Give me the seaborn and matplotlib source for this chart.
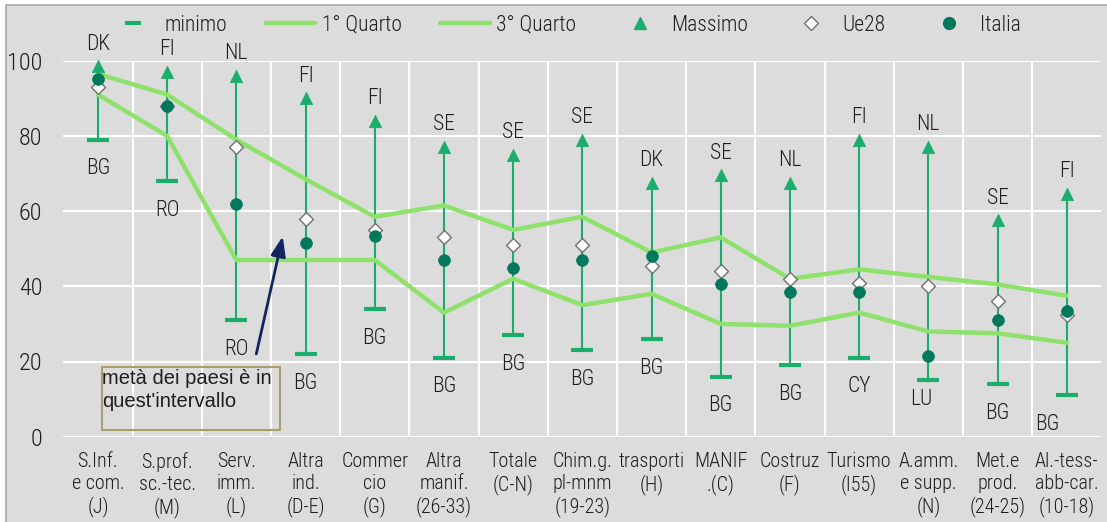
import matplotlib
matplotlib.use("Agg")
import numpy as np
import pandas as pd
import matplotlib.pyplot as plt
import seaborn as sns
from matplotlib.lines import Line2D
from matplotlib.patches import Rectangle
from matplotlib import font_manager

settori = ["S.Inf.\ne com.\n(J)", "S.prof.\nsc.-tec.\n(M)", "Serv.\nimm.\n(L)",
           "Altra\nind.\n(D-E)", "Commer\ncio\n(G)", "Altra\nmanif.\n(26-33)",
           "Totale\n(C-N)", "Chim.g.\npl-mnm\n(19-23)", "trasporti\n(H)",
           "MANIF\n.(C)", "Costruz\n(F)", "Turismo\n(I55)", "A.amm.\ne supp.\n(N)",
           "Met.e\nprod.\n(24-25)", "Al.-tess-\nabb-car.\n(10-18)"]
minimo = [79, 68, 31, 22, 34, 21, 27, 23, 26, 16, 19, 21, 15, 14, 11]
massimo = [98.5, 97, 96, 90, 84, 77, 75, 79, 67.5, 69.5, 67.5, 79, 77, 57.5, 64.5]
quarto1 = [91, 80, 47, 47, 47, 33, 42, 35, 38, 30, 29.5, 33, 28, 27.5, 25]
quarto3 = [96.5, 91, 79, 68.5, 58.5, 61.5, 55, 58.5, 49, 53, 42, 44.5, 42.5, 40.5, 37.5]
ue28 = [93, 88, 77, 58, 55, 53, 51, 51, 45.5, 44, 42, 41, 40, 36, 32.5]
italia = [95, 88, 62, 51.5, 53.5, 47, 45, 47, 48, 40.5, 38.5, 38.5, 21.5, 31, 33.5]
paese_max = ["DK", "FI", "NL", "FI", "FI", "SE", "SE", "SE", "DK", "SE", "NL", "FI", "NL", "SE", "FI"]
paese_min = ["BG", "RO", "RO", "BG", "BG", "BG", "BG", "BG", "BG", "BG", "BG", "CY", "LU", "BG", "BG"]

df = pd.DataFrame({"settore": settori, "minimo": minimo, "massimo": massimo,
                   "q1": quarto1, "q3": quarto3, "ue28": ue28, "italia": italia})

sns.set_theme(style="darkgrid")
disponibili = {f.name for f in font_manager.fontManager.ttflist}
stretto = [f for f in ["Liberation Sans Narrow", "Roboto Condensed", "DejaVu Sans Condensed"] if f in disponibili]
plt.rcParams["font.family"] = stretto + ["Liberation Sans", "DejaVu Sans"]
plt.rcParams["font.weight"] = "light"
plt.rcParams["font.size"] = 15

GRIGIO = "#dcdcdc"
VERDE = "#1aad6c"
VERDE_CH = "#8ee26c"
SCURO = "#00785c"
TESTO = "#1e1e1e"

fig = plt.figure(figsize=(11.07, 5.22), dpi=100, facecolor="white")
fig.patches.append(Rectangle((6 / 1107, -0.01), 1.0, 1 - 5 / 522 + 0.01, transform=fig.transFigure,
                             fc=GRIGIO, ec="#a8a8a8", lw=1.2, zorder=-5))
ax = fig.add_axes([63.3 / 1107, 1 - 436.7 / 522, (15 * 69.2) / 1107, (436.7 - 60.7) / 522])
ax.set_facecolor(GRIGIO)

pos = np.arange(len(settori))

# baffi min-max
ax.vlines(pos, df["minimo"], df["massimo"], color=VERDE, lw=1.5, zorder=2)

sns.lineplot(data=df, x="settore", y="q1", color=VERDE_CH, lw=3.2, ax=ax, sort=False, zorder=3)
sns.lineplot(data=df, x="settore", y="q3", color=VERDE_CH, lw=3.2, ax=ax, sort=False, zorder=3)

ax.plot(pos, df["minimo"], ls="none", marker="_", ms=16, mew=3, color=VERDE, zorder=4)
sns.scatterplot(data=df, x="settore", y="massimo", marker="^", s=80, color=VERDE,
                edgecolor=VERDE, linewidth=0.5, ax=ax, zorder=5, clip_on=False)
sns.scatterplot(data=df, x="settore", y="ue28", marker="D", s=50, color="white",
                edgecolor="#707070", linewidth=1, ax=ax, zorder=6)
sns.scatterplot(data=df, x="settore", y="italia", marker="o", s=72, color=SCURO,
                edgecolor=SCURO, linewidth=0.5, ax=ax, zorder=7)

for i in range(len(settori)):
    ax.annotate(paese_max[i], (i, massimo[i]), xytext=(0, 16), textcoords="offset points",
                ha="center", va="center", fontsize=15.5, color=TESTO, annotation_clip=False)
    dx, dy = 0, -21
    if paese_min[i] == "LU":
        dx, dy = -5, -14
    if i == len(settori) - 1:
        dx = -14
    ax.annotate(paese_min[i], (i, minimo[i]), xytext=(dx, dy), textcoords="offset points",
                ha="center", va="center", fontsize=15.5, color=TESTO)

# riquadro con freccia
ax.add_patch(Rectangle((0.055, 1.8), 2.575, 16.8, fc="none", ec="#a89f6a", lw=1.5, zorder=8))
ax.text(0.06, 17.9, "metà dei paesi è in\nquest'intervallo", ha="left", va="top",
        fontsize=14.5, family=["Liberation Sans", "DejaVu Sans"], color=TESTO,
        linespacing=1.22, zorder=8)
ax.annotate("", xy=(2.68, 54), xytext=(2.28, 21.3),
            arrowprops=dict(arrowstyle="-|>,head_length=0.8,head_width=0.3", color="#14245e", lw=2),
            zorder=9)

ax.set_xlim(-0.5, len(settori) - 0.5)
ax.set_ylim(0, 100)
ax.set_yticks(range(0, 101, 20))
ax.set_xticks(pos)
ax.set_xticklabels(settori, fontsize=14.5, color=TESTO, linespacing=1.2)
ax.set_xticks(pos[:-1] + 0.5, minor=True)
ax.tick_params(axis="y", labelsize=17.5, colors=TESTO, pad=15, length=0)
ax.tick_params(axis="x", which="major", pad=11, length=0)
ax.tick_params(which="minor", length=0)
ax.grid(axis="x", which="major", visible=False)
ax.grid(axis="x", which="minor", color="white", lw=1.5)
ax.grid(axis="y", color="white", lw=1.5)
for s in ax.spines.values():
    s.set_visible(False)
ax.set_xlabel("")
ax.set_ylabel("")

handles = [
    Line2D([], [], ls="none", marker="_", ms=12, mew=3, color=VERDE),
    Line2D([], [], color=VERDE_CH, lw=3.2),
    Line2D([], [], color=VERDE_CH, lw=3.2),
    Line2D([], [], ls="none", marker="^", ms=9, color=VERDE),
    Line2D([], [], ls="none", marker="D", ms=7, mfc="white", mec="#707070"),
    Line2D([], [], ls="none", marker="o", ms=8.5, color=SCURO),
]
etichette = ["minimo", "1° Quarto", "3° Quarto", "Massimo", "Ue28", "Italia"]
fig.legend(handles, etichette, loc="center", bbox_to_anchor=(0.51, 0.952), ncol=6,
           frameon=False, fontsize=15.5, handlelength=2.3, handletextpad=0.3,
           columnspacing=1.8, labelcolor=TESTO)

fig.savefig("out.png", dpi=100, facecolor=fig.get_facecolor())
